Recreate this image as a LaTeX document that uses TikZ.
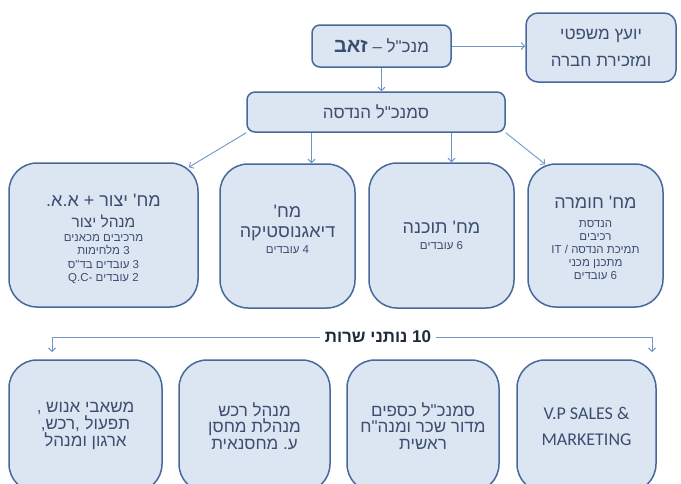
\documentclass[tikz,border=0pt]{standalone}
\usepackage{fontspec}
\setmainfont{Liberation Sans}
\newfontfamily\hebfont[Script=Hebrew]{Liberation Sans}
\newfontfamily\latfont{Carlito}
\TeXXeTstate=1
\usetikzlibrary{arrows.meta,positioning}

\definecolor{boxfill}{HTML}{DCE6F2}
\definecolor{boxline}{HTML}{46699B}
\definecolor{arrowc}{HTML}{6F97CB}
\definecolor{textc}{HTML}{3C4D70}
\definecolor{darktext}{HTML}{1F2A3C}

\newcommand{\hbr}[1]{\beginR#1\endR}
\newcommand{\bigt}{\fontsize{18}{21}\selectfont}
\newcommand{\midt}{\fontsize{15.5}{18}\selectfont}
\newcommand{\fixls}{\lineskiplimit=-50pt\relax}
\newcommand{\topgap}[1]{\rule{0pt}{#1}}

\begin{document}
\frenchspacing
\begin{tikzpicture}[x=1pt,y=-1pt,
  box/.style={draw=boxline, fill=boxfill, line width=1.5pt, text=textc, align=center, inner sep=2pt},
  topbox/.style={box, rounded corners=8pt, font=\hebfont\fontsize{17}{20}\selectfont},
  deptbox/.style={box, rounded corners=28pt, font=\hebfont\fontsize{11.5}{13.6}\selectfont\fixls},
  arr/.style={-{Straight Barb[length=3.5pt,width=7pt]}, draw=arrowc, line width=0.9pt}]
\useasboundingbox (0,0) rectangle (681,483);
\clip (0,0) rectangle (681,483);
\fill[white] (0,0) rectangle (681,483);

% top of the chart
\node[topbox, minimum width=139pt, minimum height=42pt] (ceo) at (381.5,46)
  {\hbr{מנכ"ל – {\fontsize{20}{20}\selectfont\bfseries זאב}}};
\node[topbox, rounded corners=12pt, minimum width=150pt, minimum height=69pt,
  font=\hebfont\fontsize{17}{27}\selectfont] (legal) at (601,47.5)
  {\hbr{יועץ משפטי}\\ \hbr{ומזכירת חברה}};
\node[topbox, minimum width=258pt, minimum height=40pt] (eng) at (376,112)
  {\hbr{סמנכ"ל הנדסה}};

% departments
\node[deptbox, minimum width=189pt, minimum height=144pt] (prod) at (103.5,235)
  {\hbr{\bigt\topgap{21pt}מח' יצור + א.א.}\\[6.5pt]
   \hbr{\midt מנהל יצור}\\[0.5pt]
   \hbr{מרכיבים מכאנים}\\
   \hbr{3 מלחימות}\\
   \hbr{3 עובדים בד"ס}\\
   \hbr{2 עובדים -\beginL Q.C\endL}};
\node[deptbox, minimum width=135pt, minimum height=144pt, text depth=13pt] (diag) at (287.5,236)
  {\hbr{\bigt מח'}\\[6.5pt]
   \hbr{\bigt דיאגנוסטיקה}\\[2.5pt]
   \hbr{4 עובדים}};
\node[deptbox, minimum width=145pt, minimum height=145pt] (soft) at (441.5,235.5)
  {\hbr{\bigt מח' תוכנה}\\[2pt]
   \hbr{6 עובדים}};
\node[deptbox, font=\hebfont\fontsize{11.5}{13}\selectfont\fixls,
  minimum width=135pt, minimum height=143pt] (mat) at (595.5,235.5)
  {\hbr{\bigt\topgap{17pt}מח' חומרה}\\[5.5pt]
   \hbr{הנדסת}\\
   \hbr{רכיבים}\\
   \hbr{תמיכת הנדסה / \beginL IT\endL}\\
   \hbr{מתכנן מכני}\\
   \hbr{6 עובדים}};

% service providers
\node[font=\hebfont\bfseries\fontsize{17}{20}\selectfont, text=darktext, inner xsep=5pt] (svc) at (378,337)
  {\hbr{10 נותני שרות}};
\node[deptbox, font=\hebfont\fontsize{17}{16.7}\selectfont\fixls,
  minimum width=153pt, minimum height=132pt] (hr) at (85.5,426)
  {\hbr{משאבי אנוש ,}\\ \hbr{תפעול ,רכש,}\\ \hbr{ארגון ומנהל}};
\node[deptbox, font=\hebfont\fontsize{17}{16.7}\selectfont\fixls,
  minimum width=151pt, minimum height=132pt] (buy) at (254.5,426)
  {\hbr{מנהל רכש}\\ \hbr{מנהלת מחסן}\\ \hbr{ע. מחסנאית}};
\node[deptbox, font=\hebfont\fontsize{17}{16.7}\selectfont\fixls,
  minimum width=152pt, minimum height=132pt] (fin) at (423,426)
  {\hbr{סמנכ"ל כספים}\\ \hbr{מדור שכר ומנה"ח}\\ \hbr{ראשית}};
\node[deptbox, font=\latfont\fontsize{18}{26}\selectfont,
  minimum width=139pt, minimum height=132pt] (sales) at (586.5,426)
  {V.P SALES \&\\ MARKETING};

\coordinate (dtop) at ([xshift=24pt]diag.north);
\coordinate (stop) at ([xshift=10pt]soft.north);
\coordinate (sl) at (52,352);
\coordinate (sr) at (652,352);

\draw[arr] (ceo.east) -- (ceo.east -| legal.west);
\draw[arr] (ceo.south) -- (ceo.south |- eng.north);
\draw[arr] (eng.south west) -- ([xshift=-10pt,yshift=-5pt]prod.north east);
\draw[arr] (dtop |- eng.south) -- (dtop);
\draw[arr] (stop |- eng.south) -- (stop);
\draw[arr] (eng.south east) -- ([xshift=18pt,yshift=-1pt]mat.north west);
\draw[arr] (svc.west) -| (sl);
\draw[arr] (svc.east) -| (sr);
\end{tikzpicture}
\end{document}
